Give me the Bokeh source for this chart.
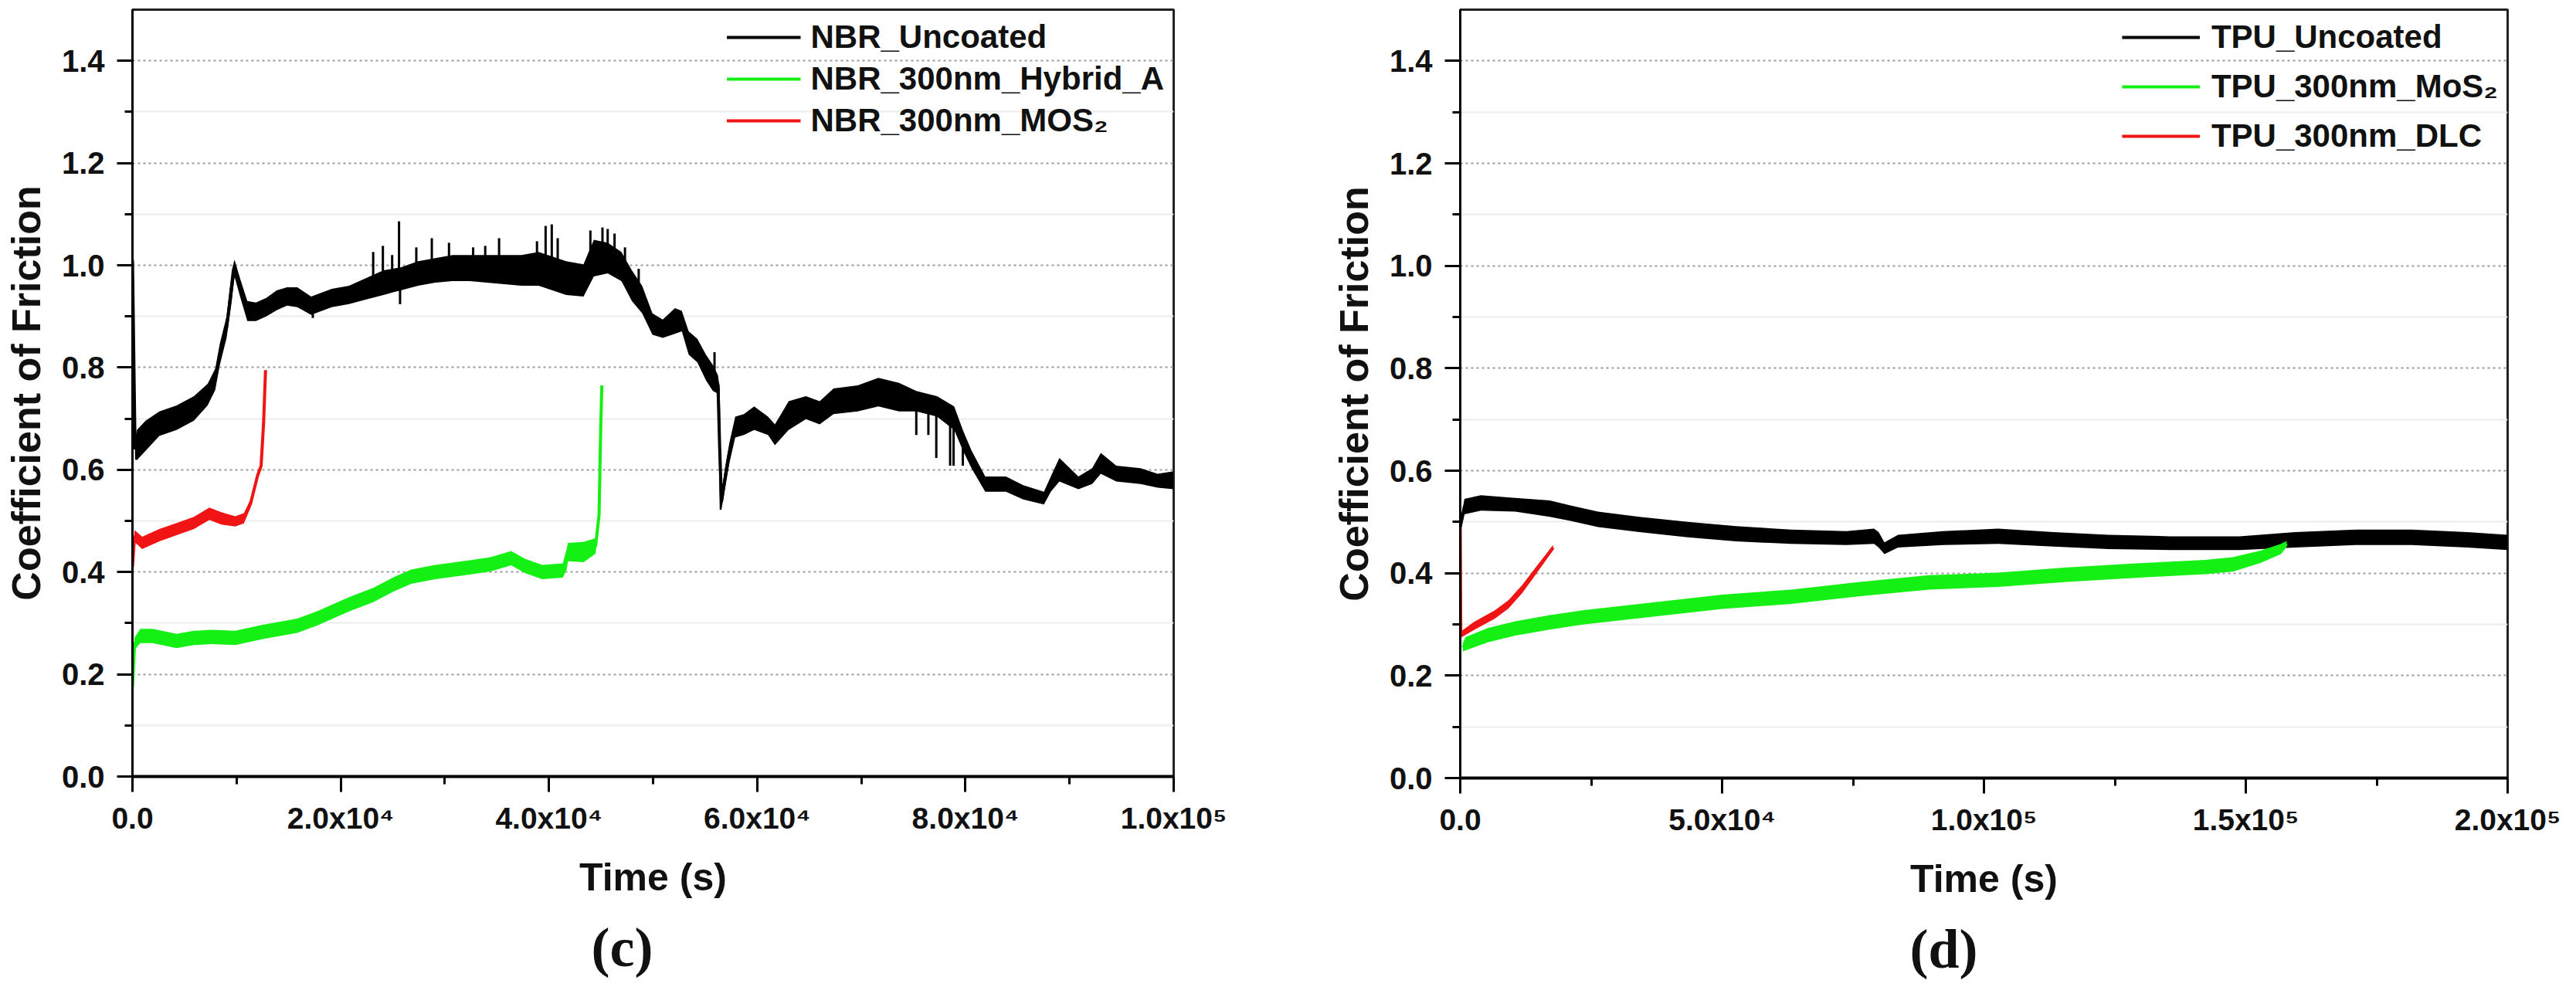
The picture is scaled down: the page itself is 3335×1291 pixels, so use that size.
from bokeh.plotting import figure
from bokeh.layouts import row
from bokeh.models import FixedTicker, Legend, LegendItem, Title, NumeralTickFormatter
from bokeh.embed import file_html
from bokeh.resources import INLINE
import numpy as np

# ---------------- data: panel (c) NBR ----------------
y_ticks = [0.0, 0.2, 0.4, 0.6, 0.8, 1.0, 1.2, 1.4]
y_minor = [0.1, 0.3, 0.5, 0.7, 0.9, 1.1, 1.3]

c_x_ticks = [0, 20000, 40000, 60000, 80000, 100000]
c_x_labels = ["0.0", "2.0x10\u2074", "4.0x10\u2074", "6.0x10\u2074", "8.0x10\u2074", "1.0x10\u2075"]
c_x_minor = [10000, 30000, 50000, 70000, 90000]

nbr_unc_t = [0, 250, 430, 1260, 2580, 4240, 5900, 7220, 7950, 8380, 9040, 9540, 9800, 10370,
             11030, 11860, 12850, 13850, 14840, 15830, 17160, 19140, 20800, 22450, 24110, 25770,
             27430, 29080, 30740, 32390, 34050, 35700, 37360, 39010, 41660, 43320, 44310, 45640,
             46960, 47960, 48950, 49940, 50930, 52100, 52760, 53420, 54250, 55080, 55740, 56230,
             56400, 56570, 56900, 57330, 57890, 58720, 59710, 61040, 61700, 63020, 64680, 66000,
             67330, 69650, 71640, 73620, 75280, 77270, 78920, 79750, 80580, 81900, 83890, 85550,
             87540, 88200, 89020, 90850, 92170, 93000, 94490, 96810, 98460, 100000]
nbr_unc_hi = [1.02, 0.66, 0.678, 0.696, 0.714, 0.726, 0.744, 0.768, 0.798, 0.846, 0.90, 0.99, 1.011,
              0.972, 0.93, 0.927, 0.936, 0.951, 0.957, 0.957, 0.939, 0.954, 0.96, 0.975, 0.99, 0.996,
              1.008, 1.014, 1.02, 1.02, 1.02, 1.02, 1.02, 1.026, 1.008, 1.002, 1.05, 1.044, 1.026,
              0.99, 0.96, 0.906, 0.894, 0.916, 0.911, 0.871, 0.856, 0.825, 0.805, 0.785, 0.76, 0.552,
              0.603, 0.653, 0.704, 0.709, 0.724, 0.704, 0.689, 0.734, 0.744, 0.734, 0.759, 0.765,
              0.78, 0.77, 0.754, 0.744, 0.724, 0.678, 0.638, 0.587, 0.587, 0.57, 0.557, 0.587, 0.623,
              0.587, 0.603, 0.633, 0.608, 0.603, 0.592, 0.597]
nbr_unc_lo = [1.00, 0.62, 0.619, 0.637, 0.666, 0.678, 0.696, 0.726, 0.756, 0.804, 0.858, 0.93, 0.978,
              0.936, 0.891, 0.891, 0.90, 0.912, 0.921, 0.918, 0.903, 0.918, 0.924, 0.933, 0.942,
              0.951, 0.96, 0.966, 0.969, 0.969, 0.966, 0.963, 0.96, 0.96, 0.942, 0.939, 0.978, 0.984,
              0.969, 0.93, 0.906, 0.864, 0.858, 0.866, 0.871, 0.825, 0.81, 0.775, 0.754, 0.749, 0.522,
              0.522, 0.562, 0.613, 0.663, 0.668, 0.678, 0.668, 0.648, 0.678, 0.699, 0.689, 0.709,
              0.714, 0.724, 0.714, 0.714, 0.704, 0.678, 0.638, 0.603, 0.557, 0.557, 0.542, 0.532,
              0.557, 0.577, 0.562, 0.572, 0.592, 0.577, 0.572, 0.565, 0.562]
nbr_spike_t = [23120, 24050, 24940, 25600, 27260, 28750, 30400, 32720, 33880, 35210, 38850, 39680,
               40270, 40840, 43980, 45140, 45640, 46300, 47300, 48620, 55900, 17320, 25700, 75280,
               76440, 77200, 78530, 78860, 79750]
nbr_spike_v = [1.026, 1.038, 1.02, 1.086, 1.035, 1.053, 1.044, 1.035, 1.038, 1.053, 1.047, 1.077,
               1.08, 1.053, 1.068, 1.074, 1.071, 1.062, 1.035, 0.993, 0.83, 0.897, 0.924, 0.668,
               0.668, 0.623, 0.608, 0.608, 0.608]

nbr_hyb_t = [0, 200, 760, 1920, 4240, 5900, 7550, 9870, 12520, 15830, 17820, 20800, 23120, 25110,
             26760, 29080, 32390, 34380, 36370, 37690, 39350, 41330, 41700, 41830, 43320, 44480,
             44810, 44980, 45080]
nbr_hyb_v = [0.175, 0.26, 0.275, 0.275, 0.265, 0.271, 0.273, 0.271, 0.283, 0.295, 0.31, 0.337, 0.355,
             0.376, 0.391, 0.40, 0.409, 0.415, 0.427, 0.412, 0.40, 0.403, 0.425, 0.439, 0.439, 0.451,
             0.511, 0.69, 0.765]
nbr_hyb_w = [0.003, 0.012, 0.014, 0.014, 0.014, 0.014, 0.014, 0.014, 0.014, 0.014, 0.014, 0.014,
             0.014, 0.014, 0.014, 0.014, 0.014, 0.014, 0.014, 0.014, 0.014, 0.014, 0.02, 0.018,
             0.02, 0.015, 0.006, 0.003, 0.002]

nbr_mos_t = [0, 200, 500, 930, 2580, 4240, 5900, 7390, 8540, 9870, 10700, 11360, 12020, 12350,
             12590, 12780]
nbr_mos_v = [0.41, 0.47, 0.465, 0.457, 0.472, 0.484, 0.496, 0.514, 0.505, 0.499, 0.505, 0.535,
             0.589, 0.607, 0.69, 0.795]
nbr_mos_w = [0.005, 0.012, 0.012, 0.012, 0.012, 0.012, 0.012, 0.012, 0.012, 0.01, 0.01, 0.008,
             0.008, 0.006, 0.004, 0.003]

# ---------------- data: panel (d) TPU ----------------
d_x_ticks = [0, 50000, 100000, 150000, 200000]
d_x_labels = ["0.0", "5.0x10\u2074", "1.0x10\u2075", "1.5x10\u2075", "2.0x10\u2075"]
d_x_minor = [25000, 75000, 125000, 175000]

tpu_unc_t = [0, 800, 3930, 10520, 17100, 21050, 26320, 34220, 43440, 52660, 63200, 73730, 79000,
             79900, 81000, 83600, 92200, 102700, 113300, 123800, 135700, 148800, 159400, 171200,
             181700, 192300, 200000]
tpu_unc_hi = [0.50, 0.545, 0.552, 0.547, 0.542, 0.532, 0.52, 0.51, 0.50, 0.492, 0.485, 0.482, 0.487,
              0.48, 0.46, 0.475, 0.482, 0.487, 0.48, 0.475, 0.472, 0.472, 0.48, 0.485, 0.485, 0.48,
              0.475]
tpu_unc_lo = [0.48, 0.515, 0.522, 0.52, 0.51, 0.502, 0.49, 0.48, 0.47, 0.462, 0.457, 0.455, 0.457,
              0.45, 0.437, 0.45, 0.455, 0.457, 0.452, 0.447, 0.445, 0.445, 0.45, 0.455, 0.455, 0.45,
              0.445]

tpu_mos_t = [500, 1000, 5250, 10520, 17100, 23690, 36850, 50020, 63190, 76360, 89530, 102700,
             115870, 129040, 142200, 147500, 152800, 156700, 157800]
tpu_mos_v = [0.255, 0.262, 0.279, 0.292, 0.304, 0.314, 0.329, 0.344, 0.354, 0.369, 0.382, 0.387,
             0.397, 0.405, 0.412, 0.417, 0.432, 0.447, 0.457]
tpu_mos_w = [0.008, 0.013, 0.014, 0.014, 0.014, 0.014, 0.014, 0.014, 0.014, 0.014, 0.014, 0.014,
             0.014, 0.014, 0.014, 0.014, 0.012, 0.01, 0.006]

tpu_dlc_t = [0, 100, 2630, 6560, 9200, 11830, 14460, 17740]
tpu_dlc_v = [0.49, 0.28, 0.297, 0.319, 0.339, 0.369, 0.405, 0.45]
tpu_dlc_w = [0.001, 0.006, 0.008, 0.008, 0.008, 0.008, 0.007, 0.005]

# ---------------- styling ----------------
SANS = "Liberation Sans"
SERIF = "Liberation Serif"
BLACK = "#000000"
GREEN = "#14f014"
RED = "#f01414"


def make_fig(xmax, xt, xl, xm, mbl, mbr, mbt, fw, fh):
    p = figure(frame_width=fw, frame_height=fh, min_border_left=mbl, min_border_right=mbr,
               min_border_top=mbt, min_border_bottom=0, x_range=(0, xmax), y_range=(0, 1.5),
               output_backend="svg", toolbar_location=None,
               background_fill_color="white", border_fill_color="white")
    p.outline_line_color = "#222222"
    p.outline_line_width = 3
    p.xgrid.visible = False
    p.ygrid.grid_line_color = "#9a9a9a"
    p.ygrid.grid_line_width = 2
    p.ygrid.grid_line_dash = "3 4"
    p.ygrid.minor_grid_line_color = "#ececec"
    p.ygrid.minor_grid_line_width = 2

    p.yaxis.ticker = FixedTicker(ticks=y_ticks, minor_ticks=y_minor)
    p.yaxis.formatter = NumeralTickFormatter(format="0.0")
    p.xaxis.ticker = FixedTicker(ticks=xt, minor_ticks=xm)
    p.xaxis.major_label_overrides = dict(zip(xt, xl))
    for ax in (p.xaxis, p.yaxis):
        ax.major_tick_out = 20
        ax.major_tick_in = 0
        ax.minor_tick_out = 10
        ax.minor_tick_in = 0
        ax.major_tick_line_width = 3
        ax.minor_tick_line_width = 3
        ax.major_label_text_font = SANS
        ax.major_label_text_font_style = "bold"
        ax.major_label_text_color = "#111111"
        ax.axis_label_text_font = SANS
        ax.axis_label_text_font_style = "bold"
        ax.axis_label_text_color = "#111111"
    p.xaxis.axis_line_width = 4
    p.yaxis.axis_line_width = 3
    p.xaxis.major_label_text_font_size = "39px"
    p.yaxis.major_label_text_font_size = "40px"
    p.xaxis.major_label_standoff = 12
    p.yaxis.major_label_standoff = 16
    p.xaxis.axis_label = "Time (s)"
    p.xaxis.axis_label_text_font_size = "50px"
    p.xaxis.axis_label_standoff = 24
    p.yaxis.axis_label = "Coefficient of Friction"
    p.yaxis.axis_label_text_font_size = "52px"
    p.yaxis.axis_label_standoff = 14
    return p


def band(p, t, lo, hi, color, lw):
    p.varea(x=t, y1=lo, y2=hi, fill_color=color, fill_alpha=1.0)
    mid = (np.array(lo) + np.array(hi)) / 2.0
    return p.line(x=t, y=mid, line_color=color, line_width=lw)


def style_legend(lg, glyph_w, standoff, spacing):
    lg.location = "top_right"
    lg.margin = 6
    lg.padding = 6
    lg.spacing = spacing
    lg.glyph_width = glyph_w
    lg.glyph_height = 44
    lg.label_height = 44
    lg.label_standoff = standoff
    lg.label_text_font = SANS
    lg.label_text_font_style = "bold"
    lg.label_text_font_size = "42px"
    lg.label_text_color = "#111111"
    lg.border_line_alpha = 0
    lg.background_fill_alpha = 0


def caption(p, text, offset):
    p.add_layout(Title(text=text, align="left", offset=offset, standoff=36, text_font=SERIF,
                       text_font_size="72px", text_font_style="bold", text_color="#111111"),
                 "below")


# ---------------- panel (c) ----------------
p1 = make_fig(100000, c_x_ticks, c_x_labels, c_x_minor, 171, 200, 12, 1348, 993)
r_unc = band(p1, nbr_unc_t, nbr_unc_lo, nbr_unc_hi, BLACK, 4)
base = np.interp(nbr_spike_t, nbr_unc_t, (np.array(nbr_unc_lo) + np.array(nbr_unc_hi)) / 2.0)
p1.segment(x0=nbr_spike_t, y0=base, x1=nbr_spike_t, y1=nbr_spike_v, line_color=BLACK, line_width=3)
hv = np.array(nbr_hyb_v); hw = np.array(nbr_hyb_w)
r_hyb = band(p1, nbr_hyb_t, hv - hw, hv + hw, GREEN, 4)
mv = np.array(nbr_mos_v); mw = np.array(nbr_mos_w)
r_mos = band(p1, nbr_mos_t, mv - mw, mv + mw, RED, 4)
lg1 = Legend(items=[LegendItem(label="NBR_Uncoated", renderers=[r_unc]),
                    LegendItem(label="NBR_300nm_Hybrid_A", renderers=[r_hyb]),
                    LegendItem(label="NBR_300nm_MOS\u2082", renderers=[r_mos])])
style_legend(lg1, 96, 13, 6)
p1.add_layout(lg1)
caption(p1, "(c)", 594)

# ---------------- panel (d) ----------------
p2 = make_fig(200000, d_x_ticks, d_x_labels, d_x_minor, 171, 70, 9, 1356, 995)
t_unc = band(p2, tpu_unc_t, tpu_unc_lo, tpu_unc_hi, BLACK, 4)
gv = np.array(tpu_mos_v); gw = np.array(tpu_mos_w)
t_mos = band(p2, tpu_mos_t, gv - gw, gv + gw, GREEN, 4)
dv = np.array(tpu_dlc_v); dw = np.array(tpu_dlc_w)
t_dlc = band(p2, tpu_dlc_t, dv - dw, dv + dw, RED, 4)
lg2 = Legend(items=[LegendItem(label="TPU_Uncoated", renderers=[t_unc]),
                    LegendItem(label="TPU_300nm_MoS\u2082", renderers=[t_mos]),
                    LegendItem(label="TPU_300nm_DLC", renderers=[t_dlc])])
style_legend(lg2, 101, 15, 16)
p2.add_layout(lg2)
caption(p2, "(d)", 582)

layout = row(p1, p2)
open("out.html", "w").write(file_html(layout, INLINE))
